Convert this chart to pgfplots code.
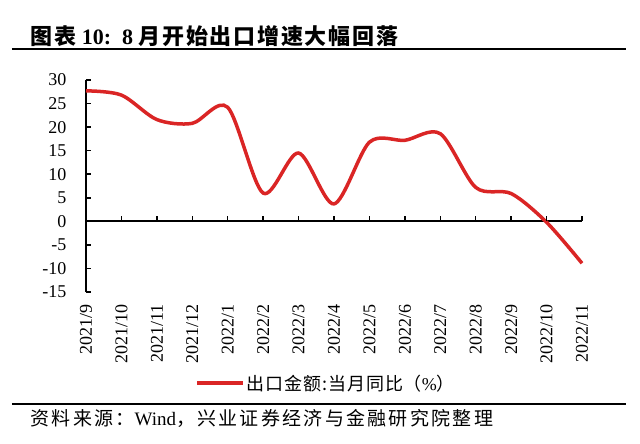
\documentclass[border=0pt]{standalone}
\usepackage{pgfplots}
\pgfplotsset{compat=1.18}
\usetikzlibrary{calc}
\usepackage{fontspec}
\setmainfont{Liberation Serif}
\newfontfamily\cjk{Noto Sans CJK SC}
\newfontfamily\cjkt[LetterSpace=8]{Noto Sans CJK SC}
\newfontfamily\cjks[LetterSpace=12]{Noto Sans CJK SC}
\newfontfamily\cjkl[LetterSpace=5]{Noto Sans CJK SC}
\definecolor{lred}{RGB}{218,37,37}

\begin{document}
\begin{tikzpicture}
\useasboundingbox (-86bp,-152bp) rectangle (554bp,292bp);
\begin{axis}[
  at={(0,0)}, anchor=south west,
  scale only axis, width=496bp, height=212bp,
  xmin=0, xmax=14, ymin=-15, ymax=30,
  axis y line*=left,
  axis x line*=bottom,
  x axis line style={draw=none},
  xtick={0,...,14},
  xticklabels={2021/9,2021/10,2021/11,2021/12,2022/1,2022/2,2022/3,2022/4,2022/5,2022/6,2022/7,2022/8,2022/9,2022/10,2022/11},
  xticklabel style={yshift=-9bp, rotate=90, anchor=east, font=\fontsize{18bp}{18bp}\selectfont},
  major x tick style={draw=none},
  ytick={-15,-10,-5,0,5,10,15,20,25,30},
  yticklabels={-15,-10,-5,0,5,10,15,20,25,30},
  yticklabel style={xshift=-16bp, font=\fontsize{18bp}{18bp}\selectfont},
  y axis line style={line width=2bp},
  major y tick style={line width=1.5bp, black},
  tick align=inside, major tick length=5bp,
  clip=false,
  legend style={draw=none, fill=none, at={(axis description cs:0.22,-0.43)}, anchor=west,
    font=\fontsize{18bp}{18bp}\selectfont, inner sep=0pt},
  legend cell align=left,
  legend image code/.code={\draw[#1] (0bp,0bp) -- (46bp,0bp);},
]
\draw[line width=1.8bp] (axis cs:0,0) -- (axis cs:14,0);
\coordinate (z0) at (axis cs:0,0);
\coordinate (z14) at (axis cs:14,0);
\addplot[lred, line width=3.5bp, smooth, tension=0.5] coordinates {
(0,27.7) (1,26.8) (2,21.6) (3,20.8) (4,24.2) (5,6.0) (6,14.5) (7,3.7)
(8,16.8) (9,17.2) (10,18.6) (11,7.2) (12,5.9) (13,-0.2) (14,-8.9)
};
\addlegendentry{{\cjkl 出口金额:当月同比（}\%{\cjkl ）}}
\end{axis}
\foreach \i in {1,...,14} \draw[line width=1.5bp] ($(z0)!\i/14!(z14)$) -- ++(0,5bp);
\node[anchor=west, font=\fontsize{22bp}{22bp}\selectfont\bfseries] at (-59bp,256bp) {{\cjkt 图表}\ 10:\hspace{0.5em}8\ {\cjkt 月开始出口增速大幅回落}};
\draw[line width=1.2bp] (-74bp,243bp) -- (540bp,243bp);
\draw[line width=1.2bp] (-74bp,-112bp) -- (540bp,-112bp);
\node[anchor=west, font=\fontsize{19bp}{19bp}\selectfont] at (-59bp,-126bp) {{\cjks 资料来源：}Wind{\cjks ，兴业证券经济与金融研究院整理}};
\end{tikzpicture}
\end{document}
